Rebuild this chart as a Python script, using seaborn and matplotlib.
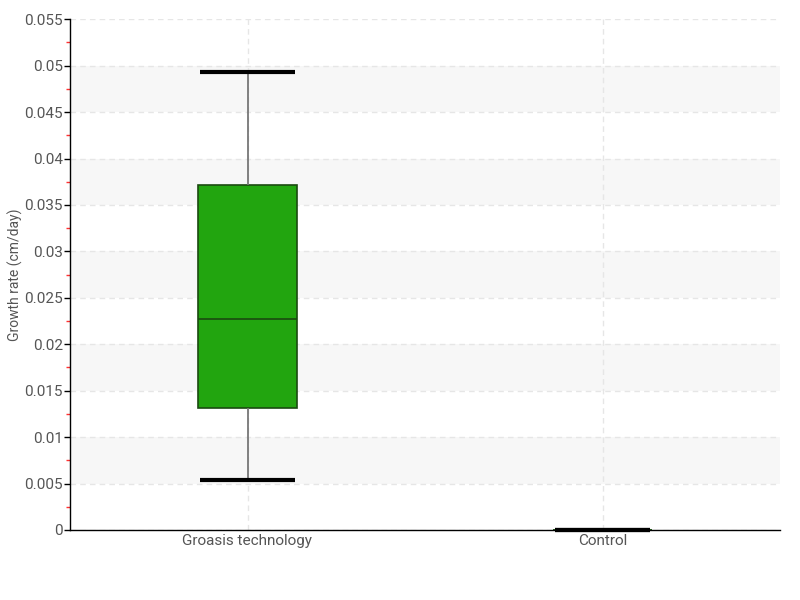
import numpy as np
import pandas as pd
import matplotlib
matplotlib.use("Agg")
import matplotlib.pyplot as plt
import seaborn as sns
from matplotlib.ticker import MultipleLocator, FuncFormatter

categories = ["Groasis technology", "Control"]
groasis_values = [0.0054, 0.0131, 0.0227, 0.0371, 0.0493]
control_values = [0.0, 0.0, 0.0, 0.0, 0.0]
y_label = "Growth rate (cm/day)"

df = pd.DataFrame({
    "group": [categories[0]] * len(groasis_values) + [categories[1]] * len(control_values),
    "value": groasis_values + control_values,
})

sns.set_style("white")
plt.rcParams["font.family"] = ["Roboto", "DejaVu Sans"]

fig = plt.figure(figsize=(8, 6), dpi=100)
ax = fig.add_axes([0.0875, 0.1167, 0.8875, 0.8513])

# alternating bands
for lo in np.arange(0.005, 0.055, 0.01):
    ax.axhspan(lo, lo + 0.005, color="#f7f7f7", zorder=0, lw=0)

sns.boxplot(data=df, x="group", y="value", order=categories, ax=ax,
            color="#22a50f", width=0.28, whis=1.5, fliersize=0,
            boxprops=dict(facecolor="#22a50f", edgecolor="#1a4a10", linewidth=1.2),
            medianprops=dict(color="#1a4a10", linewidth=1.2),
            whiskerprops=dict(color="#777777", linewidth=1.3),
            capprops=dict(color="black", linewidth=3, solid_capstyle="butt"),
            zorder=3)

# widen caps to match box width
for line in ax.lines:
    xd = line.get_xdata()
    if len(xd) == 2 and xd[0] != xd[1] and line.get_linewidth() == 3:
        c = (xd[0] + xd[1]) / 2
        line.set_xdata([c - 0.134, c + 0.134])
        line.set_clip_on(False)
        line.set_zorder(6)

ax.set_xlim(-0.5, 1.5)
ax.set_ylim(0, 0.055)
ax.yaxis.set_major_locator(MultipleLocator(0.005))
ax.yaxis.set_minor_locator(MultipleLocator(0.0025))

def fmt(v, pos):
    if abs(v) < 1e-12:
        return "0"
    return ("%.3f" % v).rstrip("0")
ax.yaxis.set_major_formatter(FuncFormatter(fmt))

ax.grid(True, which="major", axis="both", color="#e6e6e6", linestyle=(0, (4, 3)), linewidth=1)
ax.set_axisbelow(True)

for s in ["top", "right"]:
    ax.spines[s].set_visible(False)
ax.spines["left"].set_color("black")
ax.spines["bottom"].set_color("black")
ax.spines["left"].set_linewidth(1)
ax.spines["bottom"].set_linewidth(1)

ax.tick_params(axis="y", which="major", length=4, width=1, color="black",
               labelsize=11, labelcolor="#555555", left=True, direction="out", pad=1)
ax.tick_params(axis="y", which="minor", length=3, width=1, color="#ff3030", left=True, direction="out")
ax.tick_params(axis="x", which="major", length=0, labelsize=11, labelcolor="#555555", pad=3)

ax.set_xlabel("")
ax.set_ylabel(y_label, fontsize=10, color="#555555")
ax.yaxis.set_label_coords(-0.066, 0.5)

fig.savefig("out.png", dpi=100)
